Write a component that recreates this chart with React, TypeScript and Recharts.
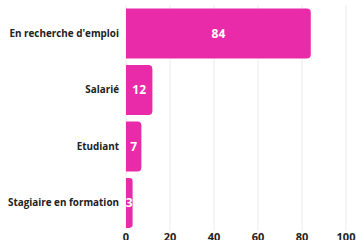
import React from "react";
import { BarChart, Bar, XAxis, YAxis, CartesianGrid, LabelList } from "recharts";

const categories = ["En recherche d'emploi", "Salarié", "Etudiant", "Stagiaire en formation"];
const values = [84, 12, 7, 3];
const xTicks = [0, 20, 40, 60, 80, 100];

const data = categories.map((name, i) => ({ name, value: values[i] }));

const FONT = "'Open Sans', sans-serif";

function YTick(props: any) {
  const { x, y, payload } = props;
  return (
    <text
      x={x + 1}
      y={y}
      dy="0.355em"
      textAnchor="end"
      fill="#222"
      fontSize={9.9}
      fontWeight={700}
      fontFamily={FONT}
    >
      {payload.value}
    </text>
  );
}

export default function App() {
  return (
    <div style={{ position: "absolute", left: 0, top: 0, background: "#fff" }}>
      <BarChart
        width={356}
        height={240}
        data={data}
        layout="vertical"
        margin={{ top: 5, right: 10, left: 0, bottom: 0 }}
        barCategoryGap="6%"
      >
        <CartesianGrid horizontal={false} stroke="#ececec" />
        <XAxis
          type="number"
          domain={[0, 100]}
          ticks={xTicks}
          axisLine={false}
          tickLine={false}
          tickSize={0}
          tickMargin={2}
          height={9}
          interval={0}
          tick={{ fill: "#222", fontSize: 11, fontWeight: 700, fontFamily: FONT }}
        />
        <YAxis
          type="category"
          dataKey="name"
          width={126}
          axisLine={false}
          tickLine={false}
          interval={0}
          tick={<YTick />}
        />
        <Bar dataKey="value" fill="#E92BAA" radius={[0, 4, 4, 0]} isAnimationActive={false}>
          <LabelList
            dataKey="value"
            position="center"
            fill="#fff"
            style={{ fontSize: 12, fontWeight: 700, fontFamily: FONT }}
          />
        </Bar>
      </BarChart>
    </div>
  );
}
